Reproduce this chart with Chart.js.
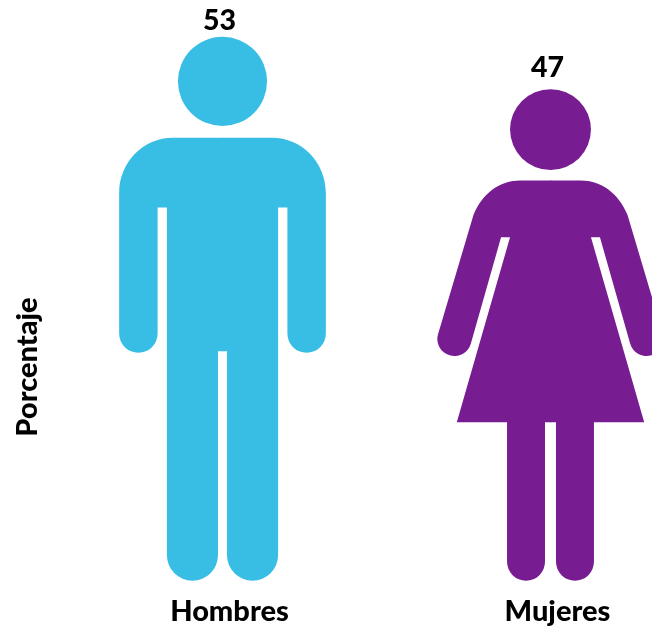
<!DOCTYPE html>
<html><head><meta charset="utf-8">
<style>html,body{margin:0;padding:0;background:#fff;overflow:hidden}canvas{display:block}</style>
<script src="https://cdn.jsdelivr.net/npm/chart.js@4"></script>
</head><body><canvas id="c" width="652" height="626"></canvas>
<script>
const categories = ["Hombres", "Mujeres"];
const percentages = [53, 47];
const figureColors = ["#38BEE5", "#771D91"];
const yAxisTitle = "Porcentaje";
const fontFamily = "Lato, 'Open Sans', sans-serif";

// Pictogram glyphs in their own design units; placed and scaled from each bar's top and base.
function half(ctx, draw, fill){ ctx.fillStyle = fill;
  [1,-1].forEach(m => { ctx.save(); ctx.scale(m,1); ctx.beginPath(); draw(ctx); ctx.closePath(); ctx.fill(); ctx.restore(); }); }
const glyphs = [
  { top: 37, bottom: 580, head: [81.3, 44.5], half(c){
      c.moveTo(0.5,137.7); c.lineTo(-49.5,137.7);
      c.bezierCurveTo(-79,137.7,-103.2,162,-103.2,193);
      c.lineTo(-103.2,333.1); c.arc(-84,333.1,19.2,Math.PI,0,true);
      c.lineTo(-64.8,207.3); c.lineTo(-55.5,207.3); c.lineTo(-55.5,554.5);
      c.arc(-30,554.5,25.5,Math.PI,0,true);
      c.lineTo(-4.5,350.7); c.lineTo(0.5,350.7);
  }},
  { top: 90, bottom: 581.7, head: [130, 40.5], half(c){
      const a = 16.2*Math.PI/180;
      c.moveTo(0.5,181); c.lineTo(-30.5,181);
      c.bezierCurveTo(-50,181,-68,193,-77.2,215.7);
      c.lineTo(-112.6,334.8); c.arc(-96.2,339.6,17.1,Math.PI+a,a,true);
      c.lineTo(-49.5,237.7); c.lineTo(-40.5,237.7); c.lineTo(-93.8,423);
      c.lineTo(-43.5,423); c.lineTo(-43.5,562.7);
      c.arc(-24.5,562.7,19,Math.PI,0,true);
      c.lineTo(-5.5,423); c.lineTo(0.5,423);
  }}
];
const valueLabelShift = [[-3,-7],[-3,-13]];

const pictogram = {
  id: "pictogram",
  beforeDatasetDraw(chart, args){
    const ctx = chart.ctx, ds = chart.data.datasets[args.index];
    args.meta.data.forEach((bar,i) => {
      const g = glyphs[i], s = (bar.base - bar.y)/(g.bottom - g.top);
      ctx.save();
      ctx.translate(bar.x, bar.base); ctx.scale(s,s); ctx.translate(0,-g.bottom);
      half(ctx, g.half, ds.backgroundColor[i]);
      ctx.beginPath(); ctx.arc(0,g.head[0],g.head[1],0,Math.PI*2); ctx.fill();
      ctx.restore();
      ctx.save();
      ctx.fillStyle = "#000"; ctx.font = "900 28.5px "+fontFamily;
      ctx.textAlign = "center"; ctx.textBaseline = "alphabetic";
      ctx.fillText(String(ds.data[i]), bar.x+valueLabelShift[i][0], bar.y+valueLabelShift[i][1]);
      ctx.restore();
    });
    return false;
  },
  afterDraw(chart){
    const ctx = chart.ctx;
    ctx.save();
    ctx.translate(37, 367); ctx.rotate(-Math.PI/2);
    ctx.fillStyle = "#000"; ctx.font = "900 29px "+fontFamily;
    ctx.textAlign = "center"; ctx.textBaseline = "alphabetic";
    ctx.fillText(yAxisTitle, 0, 0);
    ctx.restore();
  }
};

new Chart(document.getElementById("c"), {
  type: "bar",
  data: { labels: categories, datasets: [{ label: yAxisTitle, data: percentages, base: -9, backgroundColor: figureColors }] },
  plugins: [pictogram],
  options: {
    responsive: false, animation: false,
    layout: { padding: { left: 222.5, right: 101.5, top: 37, bottom: 0 } },
    plugins: { legend: { display: false }, tooltip: { enabled: false }, title: { display: false } },
    scales: {
      x: { offset: false, grid: { display: false }, border: { display: false },
           afterFit(scale){ scale.height = 45.2; },
           ticks: { color: "#000", font: { family: fontFamily, size: 29, weight: "900" },
                    padding: 5, labelOffset: 7, maxRotation: 0, autoSkip: false } },
      y: { display: false, min: -9, max: 53 }
    }
  }
});
</script></body></html>
